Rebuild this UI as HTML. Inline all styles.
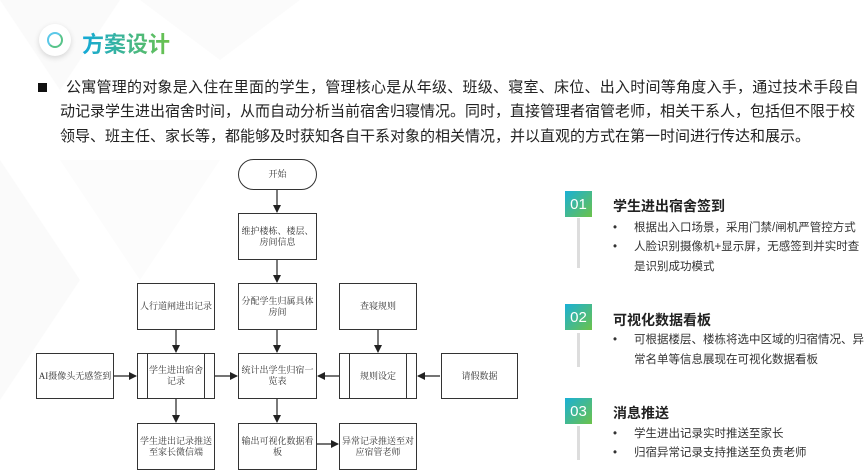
<!DOCTYPE html>
<html><head><meta charset="utf-8"><style>
html,body{margin:0;padding:0}
body{width:865px;height:471px;position:relative;overflow:hidden;background:#fff;font-family:"Liberation Sans","Noto Sans CJK SC",sans-serif;color:#222}
.abs{position:absolute;white-space:nowrap}
.p{font-size:15px;line-height:20px}
.b{position:absolute;border:1px solid #333;background:#fff;font-family:"Liberation Serif","Noto Serif CJK SC",serif;font-size:9px;color:#333;display:flex;align-items:center;justify-content:center;text-align:center;line-height:11px;box-sizing:border-box;padding:0;white-space:nowrap}
.badge{position:absolute;left:565px;width:27px;height:26px;background:linear-gradient(135deg,#1ab0d6,#6cc24a);color:#fff;font-size:15px;display:flex;align-items:center;justify-content:center}
.vl{position:absolute;left:577px;width:3px;background:#ddd}
.t{position:absolute;left:613px;font-weight:bold;font-size:14px;white-space:nowrap}
.li{position:absolute;left:613px;font-size:11.5px;white-space:nowrap;color:#333}
.li span{display:inline-block;width:21px}
</style></head><body>
<svg class="abs" style="left:0;top:0" width="865" height="471">
<polygon points="0,0 120,0 60,90" fill="#fafafa"/>
<polygon points="140,0 300,0 220,60" fill="#fbfbfb"/>
<polygon points="0,160 80,280 0,400" fill="#fafafa"/>
<polygon points="60,160 220,160 140,280" fill="#fcfcfc"/>
</svg>
<div class="abs" style="left:39px;top:24px;width:32px;height:32px;border-radius:50%;background:#fff;box-shadow:0 2px 6px rgba(0,0,0,.15)"></div>
<div class="abs" style="left:47px;top:32px;width:12px;height:12px;border-radius:50%;border:2.5px solid #3cc;border-color:#5bc8e8 #58c48a #58c48a #5bc8e8"></div>
<div class="abs" style="left:82px;top:27px;font-size:22px;font-weight:bold;background:linear-gradient(90deg,#12a9d9,#6cc24a);-webkit-background-clip:text;color:transparent">方案设计</div>
<div class="abs" style="left:38px;top:83px;width:9px;height:9px;background:#111"></div>
<div class="abs p" style="left:66px;top:78px;letter-spacing:0.25px">公寓管理的对象是入住在里面的学生，管理核心是从年级、班级、寝室、床位、出入时间等角度入手，通过技术手段自</div>
<div class="abs p" style="left:60px;top:102px;letter-spacing:0px">动记录学生进出宿舍时间，从而自动分析当前宿舍归寝情况。同时，直接管理者宿管老师，相关干系人，包括但不限于校</div>
<div class="abs p" style="left:60px;top:127px;letter-spacing:0px">领导、班主任、家长等，都能够及时获知各自干系对象的相关情况，并以直观的方式在第一时间进行传达和展示。</div>

<svg class="abs" style="left:0;top:0" width="865" height="471">
<defs><marker id="a" markerWidth="8" markerHeight="8" refX="7" refY="4" orient="auto" markerUnits="userSpaceOnUse"><path d="M0,0 L8,4 L0,8z" fill="#222"/></marker></defs>
<g stroke="#222" stroke-width="1.2" fill="none">
<line x1="277" y1="190" x2="277" y2="212" marker-end="url(#a)"/>
<line x1="277" y1="260" x2="277" y2="282" marker-end="url(#a)"/>
<line x1="277" y1="330" x2="277" y2="352" marker-end="url(#a)"/>
<line x1="176" y1="330" x2="176" y2="352" marker-end="url(#a)"/>
<line x1="378" y1="330" x2="378" y2="352" marker-end="url(#a)"/>
<line x1="114" y1="376" x2="136" y2="376" marker-end="url(#a)"/>
<line x1="215" y1="376" x2="237" y2="376" marker-end="url(#a)"/>
<line x1="339" y1="376" x2="318" y2="376" marker-end="url(#a)"/>
<line x1="440" y1="376" x2="418" y2="376" marker-end="url(#a)"/>
<line x1="176" y1="399" x2="176" y2="422" marker-end="url(#a)"/>
<line x1="277" y1="399" x2="277" y2="422" marker-end="url(#a)"/>
<line x1="317" y1="444" x2="338" y2="444" marker-end="url(#a)"/>
</g></svg>
<div class="b" style="left:238px;top:159px;width:79px;height:31px;border-radius:16px">开始</div>
<div class="b" style="left:238px;top:213px;width:79px;height:47px">维护楼栋、楼层、<br>房间信息</div>
<div class="b" style="left:137px;top:283px;width:78px;height:47px">人行道闸进出记录</div>
<div class="b" style="left:238px;top:283px;width:79px;height:47px">分配学生归属具体<br>房间</div>
<div class="b" style="left:339px;top:283px;width:78px;height:47px">查寝规则</div>
<div class="b" style="left:36px;top:353px;width:78px;height:46px">AI摄像头无感签到</div>
<div class="b" style="left:137px;top:353px;width:78px;height:46px;box-shadow:inset 9px 0 0 #fff,inset 10px 0 0 #333,inset -9px 0 0 #fff,inset -10px 0 0 #333">学生进出宿舍<br>记录</div>
<div class="b" style="left:238px;top:353px;width:79px;height:46px">统计出学生归宿一<br>览表</div>
<div class="b" style="left:339px;top:353px;width:78px;height:46px;box-shadow:inset 9px 0 0 #fff,inset 10px 0 0 #333,inset -9px 0 0 #fff,inset -10px 0 0 #333">规则设定</div>
<div class="b" style="left:441px;top:353px;width:77px;height:46px">请假数据</div>
<div class="b" style="left:137px;top:423px;width:78px;height:47px">学生进出记录推送<br>至家长微信端</div>
<div class="b" style="left:238px;top:423px;width:79px;height:47px">输出可视化数据看<br>板</div>
<div class="b" style="left:339px;top:423px;width:78px;height:47px">异常记录推送至对<br>应宿管老师</div>

<div class="badge" style="top:191px">01</div>
<div class="vl" style="top:218px;height:50px"></div>
<div class="t" style="top:196px">学生进出宿舍签到</div>
<div class="li" style="top:219px"><span>•</span>根据出入口场景，采用门禁/闸机严管控方式</div>
<div class="li" style="top:238px"><span>•</span>人脸识别摄像机+显示屏，无感签到并实时查</div>
<div class="li" style="top:258px"><span></span>是识别成功模式</div>

<div class="badge" style="top:304px">02</div>
<div class="vl" style="top:333px;height:34px"></div>
<div class="t" style="top:310px">可视化数据看板</div>
<div class="li" style="top:331px"><span>•</span>可根据楼层、楼栋将选中区域的归宿情况、异</div>
<div class="li" style="top:351px"><span></span>常名单等信息展现在可视化数据看板</div>

<div class="badge" style="top:398px">03</div>
<div class="vl" style="top:426px;height:34px"></div>
<div class="t" style="top:403px">消息推送</div>
<div class="li" style="top:425px"><span>•</span>学生进出记录实时推送至家长</div>
<div class="li" style="top:444px"><span>•</span>归宿异常记录支持推送至负责老师</div>
</body></html>
